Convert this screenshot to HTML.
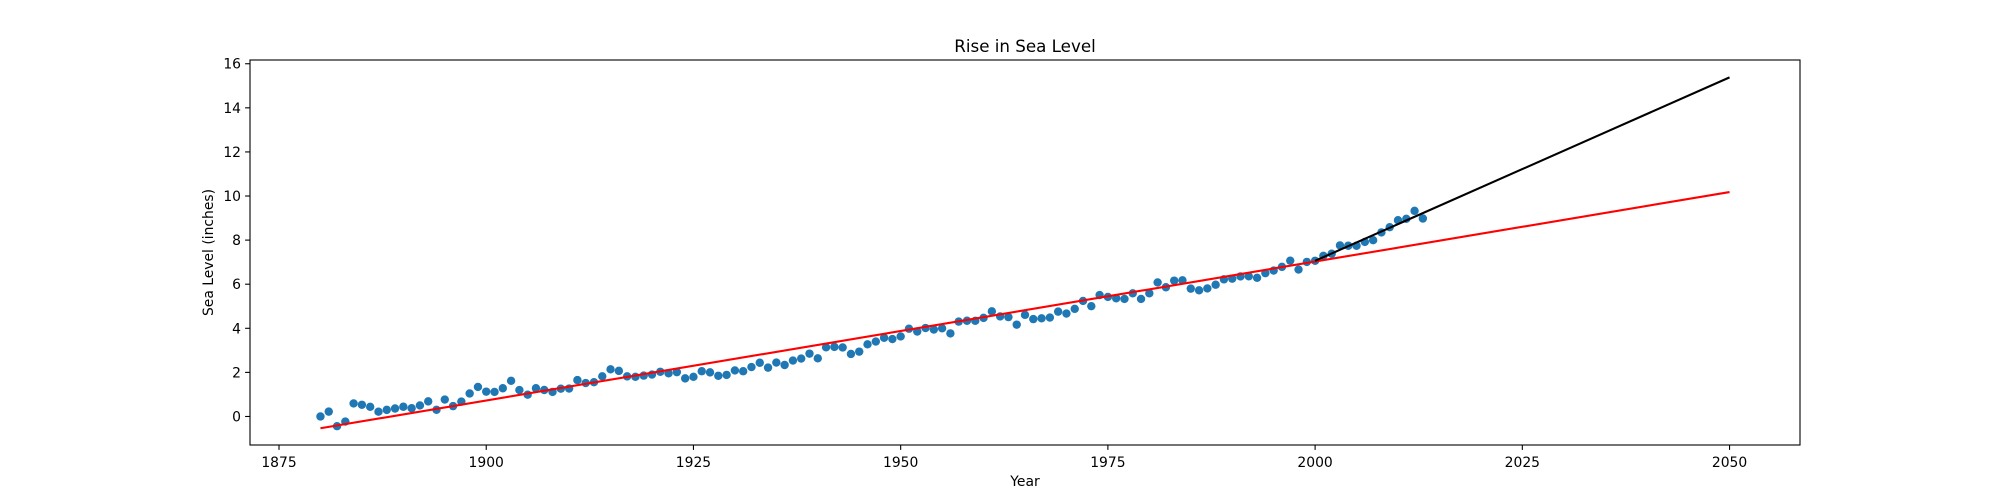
<!DOCTYPE html>
<html><head><meta charset="utf-8">
<style>
html,body{margin:0;padding:0;background:#fff;}
svg{display:block;font-family:"DejaVu Sans","Liberation Sans",sans-serif;}
</style></head>
<body>
<svg id="chart" width="2000" height="500" viewBox="0 0 2000 500" xmlns="http://www.w3.org/2000/svg">
<rect x="0" y="0" width="2000" height="500" fill="#fff"/>
<text x="1025" y="52" text-anchor="middle" font-size="16.7" fill="#000">Rise in Sea Level</text>
<text x="1025" y="486" text-anchor="middle" font-size="13.9" fill="#000">Year</text>
<text transform="translate(213,252.5) rotate(-90)" text-anchor="middle" font-size="13.9" fill="#000">Sea Level (inches)</text>
<g id="plot"></g>
</svg>
<script>
const years = [];
for (let y = 1880; y <= 2013; y++) years.push(y);
const seaLevel = [0,0.220,-0.441,-0.232,0.591,0.531,0.437,0.217,0.299,0.362,0.441,0.374,0.500,0.685,0.303,0.768,0.469,0.673,1.043,1.339,
1.126,1.114,1.280,1.618,1.197,0.988,1.280,1.201,1.114,1.260,1.268,1.650,1.516,1.555,1.823,2.139,2.068,1.819,1.799,1.854,
1.902,2.028,1.957,2.012,1.728,1.799,2.052,2.000,1.846,1.886,2.087,2.052,2.241,2.437,2.216,2.445,2.335,2.535,2.626,2.850,
2.638,3.138,3.157,3.130,2.835,2.941,3.272,3.398,3.571,3.512,3.630,3.980,3.854,4.012,3.945,4.000,3.768,4.303,4.342,4.339,
4.473,4.768,4.539,4.508,4.165,4.610,4.417,4.453,4.488,4.756,4.669,4.882,5.240,5.004,5.508,5.421,5.362,5.331,5.587,5.331,
5.590,6.079,5.862,6.161,6.173,5.799,5.724,5.807,5.976,6.220,6.252,6.354,6.358,6.291,6.500,6.618,6.787,7.067,6.665,7.012,
7.063,7.287,7.382,7.760,7.744,7.744,7.917,7.996,8.350,8.587,8.902,8.965,9.327,8.980];
const xTicks = [1875,1900,1925,1950,1975,2000,2025,2050];
const yTicks = [0,2,4,6,8,10,12,14,16];
const fitEndYear = 2050;
const recentStart = 2000;

const L=250,R=1800,T=60,B=445;
const xmin=1871.5,xmax=2058.5,ymin=-1.294,ymax=16.17;
const sx=v=>L+(v-xmin)/(xmax-xmin)*(R-L);
const sy=v=>B-(v-ymin)/(ymax-ymin)*(B-T);
const NS='http://www.w3.org/2000/svg';
const g=document.getElementById('plot');
function mk(tag,attrs){const e=document.createElementNS(NS,tag);for(const k in attrs)e.setAttribute(k,attrs[k]);g.appendChild(e);return e;}
function fit(xs,ys){const n=xs.length;let mx=0,my=0;for(let i=0;i<n;i++){mx+=xs[i];my+=ys[i];}mx/=n;my/=n;let sxy=0,sxx=0;for(let i=0;i<n;i++){sxy+=(xs[i]-mx)*(ys[i]-my);sxx+=(xs[i]-mx)**2;}const m=sxy/sxx;return [m,my-m*mx];}

// points
for(let i=0;i<years.length;i++){
  const c=mk('circle',{cx:sx(years[i]),cy:sy(seaLevel[i]),r:4.2,fill:'#1f77b4'});
  
  
}
// fit lines
const [m1,b1]=fit(years,seaLevel);
const l1=mk('line',{x1:sx(years[0]),y1:sy(m1*years[0]+b1),x2:sx(fitEndYear),y2:sy(m1*fitEndYear+b1),stroke:'#ff0000','stroke-width':2.08});


const ry=[],rv=[];for(let i=0;i<years.length;i++)if(years[i]>=recentStart){ry.push(years[i]);rv.push(seaLevel[i]);}
const [m2,b2]=fit(ry,rv);
const l2=mk('line',{x1:sx(recentStart),y1:sy(m2*recentStart+b2),x2:sx(fitEndYear),y2:sy(m2*fitEndYear+b2),stroke:'#000','stroke-width':2.08});



// frame
const fr=mk('rect',{x:L,y:T,width:R-L,height:B-T,fill:'none',stroke:'#000','stroke-width':1.1});


// ticks
xTicks.forEach(t=>{
  const x=sx(t);
  const tk=mk('line',{x1:x,y1:B,x2:x,y2:B+4.9,stroke:'#000','stroke-width':1.1});
  
  
  const tx=mk('text',{x:x,y:B+22,'text-anchor':'middle','font-size':13.9,fill:'#000'});
  tx.textContent=t;
  
  
});
yTicks.forEach(t=>{
  const y=sy(t);
  const tk=mk('line',{x1:L-4.9,y1:y,x2:L,y2:y,stroke:'#000','stroke-width':1.1});
  
  
  const tx=mk('text',{x:L-9,y:y+5,'text-anchor':'end','font-size':13.9,fill:'#000'});
  tx.textContent=t;
  
  
});
</script>
</body></html>
